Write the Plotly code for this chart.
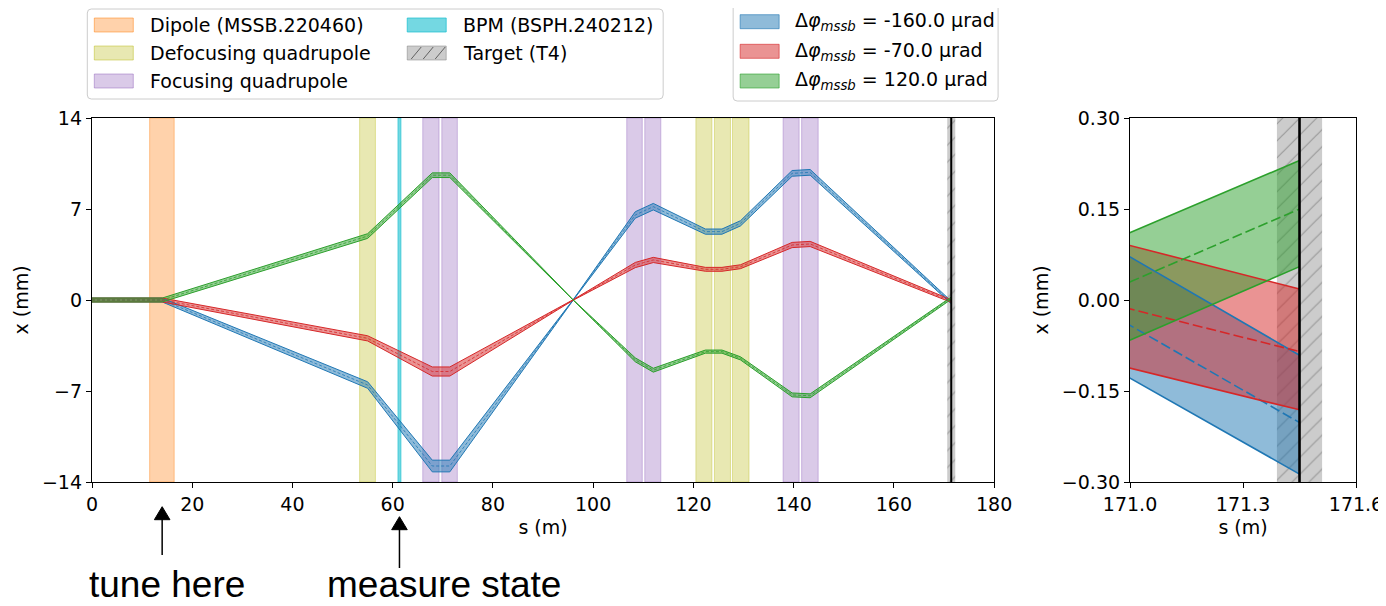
import plotly.graph_objects as go

# page body has an 8 px margin, so the figure is 8 px smaller and everything is laid out in
# reference-image pixel coordinates relative to the plot area
W_REF, H_REF = 1386, 606
BODY = 8
W, H = W_REF - BODY, H_REF - BODY

# ---------------- data ----------------
s_pts = [0.0, 14.0, 55.0, 67.9, 71.4, 96.0, 108.4, 112.0, 122.4, 125.7, 129.4, 139.7, 143.3, 171.45]

blue_center = [0.0, 0.0, -6.54, -12.77, -12.77, 0.0, 6.54, 7.18, 5.26, 5.26, 5.90, 9.74, 9.82, -0.202]
blue_upper = [0.15, 0.15, -6.29, -12.32, -12.32, 0.02, 6.79, 7.43, 5.46, 5.46, 6.10, 9.96, 10.04, -0.091]
blue_lower = [-0.15, -0.15, -6.79, -13.22, -13.22, -0.02, 6.29, 6.93, 5.06, 5.06, 5.70, 9.52, 9.60, -0.287]

red_center = [0.0, 0.0, -2.95, -5.50, -5.50, 0.0, 2.69, 3.08, 2.36, 2.36, 2.56, 4.23, 4.31, -0.085]
red_upper = [0.15, 0.15, -2.75, -5.15, -5.15, 0.02, 2.89, 3.28, 2.51, 2.51, 2.71, 4.43, 4.51, 0.018]
red_lower = [-0.15, -0.15, -3.15, -5.85, -5.85, -0.02, 2.49, 2.88, 2.21, 2.21, 2.41, 4.03, 4.11, -0.181]

green_center = [0.0, 0.0, 4.92, 9.60, 9.60, 0.0, -4.60, -5.40, -3.97, -3.97, -4.49, -7.30, -7.37, 0.15]
green_upper = [0.15, 0.15, 5.10, 9.78, 9.78, 0.02, -4.45, -5.25, -3.85, -3.85, -4.37, -7.15, -7.22, 0.23]
green_lower = [-0.15, -0.15, 4.74, 9.42, 9.42, -0.02, -4.75, -5.55, -4.09, -4.09, -4.61, -7.45, -7.52, 0.055]

kick_labels = ["-160.0", "-70.0", "120.0"]

dipole = (11.5, 16.4)
defocusing_quads = [(53.4, 56.55), (120.5, 123.7), (124.2, 127.4), (127.8, 131.1)]
focusing_quads = [(66.0, 69.25), (69.8, 72.9), (106.7, 109.8), (110.3, 113.5), (137.9, 141.1), (141.6, 144.9)]
bpm = (61.05, 61.65)
target = (171.39, 171.51)
target_s = 171.45
tune_s = 14.0
measure_s = 61.35

main_x_ticks = [0, 20, 40, 60, 80, 100, 120, 140, 160, 180]
main_y_ticks = [-14, -7, 0, 7, 14]
zoom_x_ticks = [171.0, 171.3, 171.6]
zoom_y_ticks = [-0.30, -0.15, 0.00, 0.15, 0.30]

# ---------------- styling / layout ----------------
FONT = "DejaVu Sans"
FS = 19
C_BLUE = (31, 119, 180)
C_RED = (214, 39, 40)
C_GREEN = (44, 160, 44)
C_ORANGE = (255, 127, 14)
C_OLIVE = (188, 189, 34)
C_PURPLE = (148, 103, 189)
C_CYAN = (23, 190, 207)

# plot area in reference pixels
PL, PR, PT, PB = 91.7, 1356.0, 118.0, 482.0
MAIN_R, ZOOM_L = 994.0, 1130.0
PW, PH = PR - PL, PB - PT


def rgba(c, a):
    return f"rgba({c[0]},{c[1]},{c[2]},{a})"


def px(x):
    return (x - PL) / PW


def py(y):
    return (PB - y) / PH


series = [
    (blue_center, blue_upper, blue_lower, C_BLUE, kick_labels[0]),
    (red_center, red_upper, red_lower, C_RED, kick_labels[1]),
    (green_center, green_upper, green_lower, C_GREEN, kick_labels[2]),
]

fig = go.Figure()

main_yr = [main_y_ticks[0], main_y_ticks[-1]]
zoom_yr = [zoom_y_ticks[0], zoom_y_ticks[-1]]
hatch = dict(shape="/", fgcolor="rgba(70,70,70,0.75)", size=12, solidity=0.1, fillmode="overlay")
fig.add_trace(go.Bar(x=[target_s], y=[main_yr[1] - main_yr[0]], base=[main_yr[0]], width=[1.6],
                     marker=dict(color="rgba(128,128,128,0.4)", line=dict(width=0), pattern=hatch),
                     xaxis="x", yaxis="y", hoverinfo="skip", showlegend=False))
fig.add_trace(go.Bar(x=[(target[0] + target[1]) / 2], y=[zoom_yr[1] - zoom_yr[0]], base=[zoom_yr[0]],
                     width=[target[1] - target[0]],
                     marker=dict(color="rgba(128,128,128,0.4)", line=dict(width=0), pattern=hatch),
                     xaxis="x2", yaxis="y2", hoverinfo="skip", showlegend=False))

for ax, ay, lw_edge, lw_c, dash in [("x", "y", 1.0, 0.8, "3px,2px"), ("x2", "y2", 1.6, 1.6, "10px,4px")]:
    for c, up, lo, col, _ in series:
        fig.add_trace(go.Scatter(x=s_pts + s_pts[::-1], y=up + lo[::-1], fill="toself", mode="none",
                                 fillcolor=rgba(col, 0.5), xaxis=ax, yaxis=ay, hoverinfo="skip",
                                 showlegend=False))
    for c, up, lo, col, _ in series:
        for yy in (up, lo):
            fig.add_trace(go.Scatter(x=s_pts, y=yy, mode="lines", line=dict(color=rgba(col, 1), width=lw_edge),
                                     xaxis=ax, yaxis=ay, hoverinfo="skip", showlegend=False))
        fig.add_trace(go.Scatter(x=s_pts, y=c, mode="lines", line=dict(color=rgba(col, 1), width=lw_c, dash=dash),
                                 xaxis=ax, yaxis=ay, hoverinfo="skip", showlegend=False))

shapes = []


def span(x0, x1, col, a_fill, a_line):
    shapes.append(dict(type="rect", xref="x", yref="y domain", x0=x0, x1=x1, y0=0, y1=1,
                       fillcolor=rgba(col, a_fill), line=dict(color=rgba(col, a_line), width=1), layer="below"))


span(dipole[0], dipole[1], C_ORANGE, 0.35, 0.4)
for q in defocusing_quads:
    span(q[0], q[1], C_OLIVE, 0.35, 0.4)
for q in focusing_quads:
    span(q[0], q[1], C_PURPLE, 0.35, 0.4)
span(bpm[0], bpm[1], C_CYAN, 0.6, 0.6)

shapes.append(dict(type="line", xref="x", yref="y domain", x0=target_s, x1=target_s, y0=0, y1=1,
                   line=dict(color="black", width=2)))
shapes.append(dict(type="line", xref="x2", yref="y2 domain", x0=target_s, x1=target_s, y0=0, y1=1,
                   line=dict(color="black", width=2.6)))

annotations = []


def legend_box(x0, y0, x1, y1, r=4):
    X0, X1, Y0, Y1 = px(x0), px(x1), py(y0), py(y1)
    rx, ry = r / PW, r / PH
    path = (f"M{X0 + rx},{Y0} L{X1 - rx},{Y0} Q{X1},{Y0} {X1},{Y0 - ry} L{X1},{Y1 + ry} Q{X1},{Y1} {X1 - rx},{Y1} "
            f"L{X0 + rx},{Y1} Q{X0},{Y1} {X0},{Y1 + ry} L{X0},{Y0 - ry} Q{X0},{Y0} {X0 + rx},{Y0} Z")
    shapes.append(dict(type="path", xref="paper", yref="paper", path=path, fillcolor="rgba(255,255,255,0.8)",
                       line=dict(color="#cccccc", width=1), layer="above"))


def legend_patch(x0, yc, fill, edge, text, tx, hatch_lines=False):
    shapes.append(dict(type="rect", xref="paper", yref="paper", x0=px(x0), x1=px(x0 + 39), y0=py(yc - 7),
                       y1=py(yc + 7), fillcolor=fill, line=dict(color=edge, width=1), layer="above"))
    if hatch_lines:
        for k in range(3):
            xa = x0 + 4 + k * 12
            shapes.append(dict(type="line", xref="paper", yref="paper", x0=px(xa), x1=px(xa + 10),
                               y0=py(yc + 6), y1=py(yc - 6), line=dict(color="rgba(70,70,70,0.8)", width=1),
                               layer="above"))
    annotations.append(dict(x=px(tx), y=py(yc), xref="paper", yref="paper", xanchor="left", yanchor="middle",
                            text=text, showarrow=False, font=dict(family=FONT, size=FS, color="black")))


# left legend
legend_box(87, 9, 663, 99)
rows_l = [25, 53, 81]
legend_patch(94, rows_l[0], rgba(C_ORANGE, 0.35), rgba(C_ORANGE, 0.5), "Dipole (MSSB.220460)", 148)
legend_patch(94, rows_l[1], rgba(C_OLIVE, 0.35), rgba(C_OLIVE, 0.5), "Defocusing quadrupole", 148)
legend_patch(94, rows_l[2], rgba(C_PURPLE, 0.35), rgba(C_PURPLE, 0.5), "Focusing quadrupole", 148)
legend_patch(407, rows_l[0], rgba(C_CYAN, 0.6), rgba(C_CYAN, 0.7), "BPM (BSPH.240212)", 461)
legend_patch(407, rows_l[1], "rgba(128,128,128,0.4)", "rgba(128,128,128,0.5)", "Target (T4)", 461, True)

# right legend
legend_box(733, 4, 998, 101)
rows_r = [21.7, 51.3, 81]
for (c, up, lo, col, lab), yc in zip(series, rows_r):
    legend_patch(740, yc, rgba(col, 0.5), rgba(col, 0.6),
                 f"Δ<i>φ</i><sub><i>mssb</i></sub> = {lab} μrad", 793)

# arrows (shape line + filled head) pointing at the tune and measurement locations
M_PER_PX = (main_x_ticks[-1] - main_x_ticks[0]) / (MAIN_R - PL)


def up_arrow(s, tip_y, tail_y, head_len=13, head_half=7.8):
    shapes.append(dict(type="line", xref="x", yref="paper", x0=s, x1=s, y0=py(tail_y), y1=py(tip_y + head_len - 1),
                       line=dict(color="black", width=1.5)))
    hw = head_half * M_PER_PX
    path = f"M{s},{py(tip_y)} L{s - hw},{py(tip_y + head_len)} L{s + hw},{py(tip_y + head_len)} Z"
    shapes.append(dict(type="path", xref="x", yref="paper", path=path, fillcolor="black",
                       line=dict(color="black", width=1)))


up_arrow(tune_s, 506.7, 555)
up_arrow(measure_s, 516.7, 568)

annotations.append(dict(x=px(87), y=py(584.5), xref="paper", yref="paper", xanchor="left", yanchor="middle",
                        text="tune here", showarrow=False,
                        font=dict(family="Liberation Sans", size=37, color="black")))
annotations.append(dict(x=px(325), y=py(584.5), xref="paper", yref="paper", xanchor="left", yanchor="middle",
                        text="measure state", showarrow=False,
                        font=dict(family="Liberation Sans", size=37, color="black")))

axis_common = dict(ticks="outside", ticklen=5, tickwidth=1.2, tickcolor="black", showline=True,
                   linecolor="black", linewidth=1.3, mirror=True, showgrid=False, zeroline=False,
                   automargin=False, tickfont=dict(family=FONT, size=FS, color="black"))

fig.update_layout(
    width=W, height=H,
    margin=dict(l=PL - BODY, r=W_REF - PR, t=PT - BODY, b=H_REF - PB, pad=0, autoexpand=False),
    paper_bgcolor="white", plot_bgcolor="white", showlegend=False, barmode="overlay",
    font=dict(family=FONT, size=FS, color="black"),
    xaxis=dict(domain=[0, px(MAIN_R)], range=[main_x_ticks[0], main_x_ticks[-1]], tickvals=main_x_ticks,
               title=dict(text="s (m)", standoff=6, font=dict(family=FONT, size=FS)), anchor="y", **axis_common),
    yaxis=dict(domain=[0, 1], range=main_yr, tickvals=main_y_ticks,
               title=dict(text="x (mm)", standoff=8, font=dict(family=FONT, size=FS)), anchor="x", **axis_common),
    xaxis2=dict(domain=[px(ZOOM_L), 1], range=[zoom_x_ticks[0], zoom_x_ticks[-1]], tickvals=zoom_x_ticks,
                tickformat=".1f", title=dict(text="s (m)", standoff=6, font=dict(family=FONT, size=FS)),
                anchor="y2", **axis_common),
    yaxis2=dict(domain=[0, 1], range=zoom_yr, tickvals=zoom_y_ticks, tickformat=".2f",
                title=dict(text="x (mm)", standoff=8, font=dict(family=FONT, size=FS)), anchor="x2",
                **axis_common),
    shapes=shapes, annotations=annotations,
)

fig.write_html("out.html")
